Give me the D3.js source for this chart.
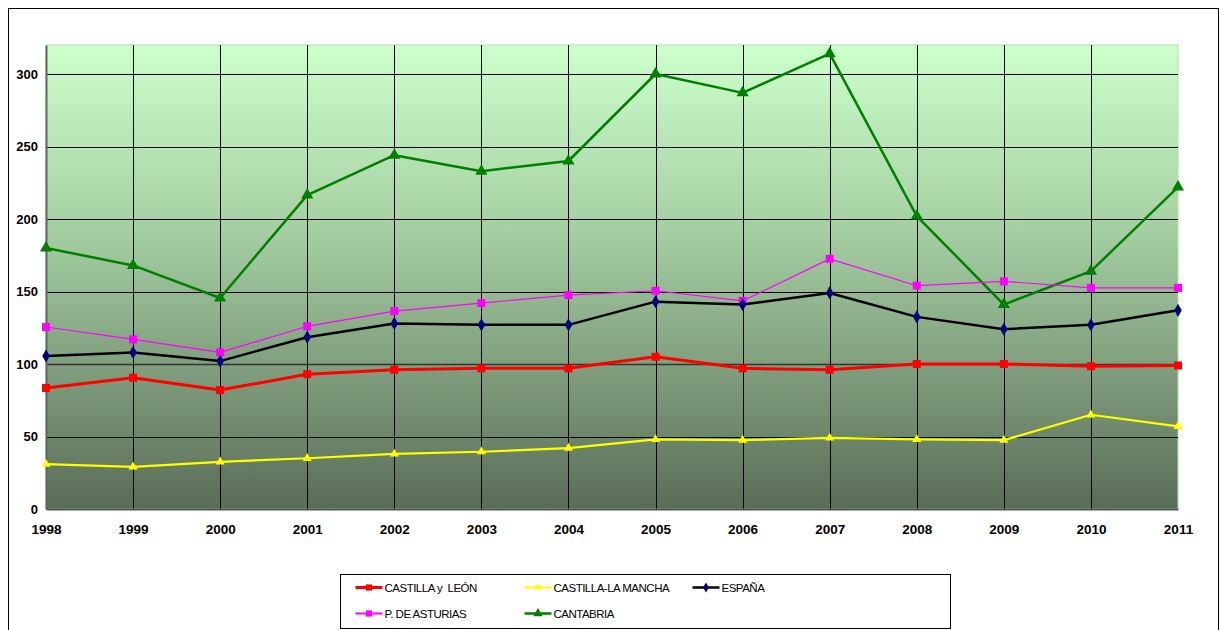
<!DOCTYPE html>
<html>
<head>
<meta charset="utf-8">
<script src="https://cdn.jsdelivr.net/npm/d3@7"></script>
<style>
  body { margin: 0; background: #fff; }
  svg { display: block; font-family: "Liberation Sans", Arial, sans-serif; }
</style>
</head>
<body>
<div id="chart"></div>
<script>
'use strict';

const years = [1998, 1999, 2000, 2001, 2002, 2003, 2004, 2005, 2006, 2007, 2008, 2009, 2010, 2011];
const yTicks = [0, 50, 100, 150, 200, 250, 300];

const castillaLeon = [83.5, 90.5, 82, 93, 96, 97, 97, 105, 97, 96, 100, 100, 98.5, 99];
const castillaMancha = [31, 29, 32.5, 35, 38, 39.5, 42, 48, 47.5, 49, 48, 47.5, 65, 57];
const espana = [105.5, 108, 102, 118.5, 128, 127, 127, 143, 141, 149, 132.5, 124, 127, 137];
const asturias = [125.5, 117, 108, 126, 136.5, 142, 147.5, 150.5, 143.5, 172.5, 154, 157, 152.5, 152.5];
const cantabria = [180, 168, 145.5, 216.5, 244, 233, 240, 300, 287, 314, 202, 141, 164, 222];

const seriesNames = ["CASTILLA y  LEÓN", "CASTILLA-LA MANCHA", "ESPAÑA", "P. DE ASTURIAS", "CANTABRIA"];

const series = [
    {name: seriesNames[0], values: castillaLeon, line: "#ff0000", fill: "#ff0000", width: 3, symbol: d3.symbolSquare, size: 64},
    {name: seriesNames[1], values: castillaMancha, line: "#ffff00", fill: "#ffff00", width: 2.2, symbol: d3.symbolTriangle, size: 36},
    {name: seriesNames[2], values: espana, line: "#000000", fill: "#000080", width: 2.5, symbol: d3.symbolDiamond, size: 50},
    {name: seriesNames[3], values: asturias, line: "#ff00ff", fill: "#ff00ff", width: 1.2, symbol: d3.symbolSquare, size: 64},
    {name: seriesNames[4], values: cantabria, line: "#008000", fill: "#008000", width: 2.5, symbol: d3.symbolTriangle, size: 64}
];

// draw order: Cantabria and Asturias underneath, then the rest
const drawOrder = [4, 3, 2, 1, 0];

const W = 1221, H = 630;
const margin = {top: 45, right: 43, bottom: 121, left: 46};
const plotW = W - margin.left - margin.right;
const plotH = H - margin.top - margin.bottom;

const svg = d3.select("#chart").append("svg")
    .attr("width", W)
    .attr("height", H);

// outer frame
svg.append("rect")
    .attr("x", 8.5).attr("y", 8.5)
    .attr("width", 1210).attr("height", 640)
    .attr("fill", "none")
    .attr("stroke", "#000")
    .attr("stroke-width", 1);

const defs = svg.append("defs");
const grad = defs.append("linearGradient")
    .attr("id", "bg").attr("x1", 0).attr("y1", 0).attr("x2", 0).attr("y2", 1);
grad.append("stop").attr("offset", "0%").attr("stop-color", "#ccffcc");
grad.append("stop").attr("offset", "40%").attr("stop-color", "#a5cfa2");
grad.append("stop").attr("offset", "100%").attr("stop-color", "#5a6c57");

const x = d3.scalePoint().domain(years).range([0, plotW]);
const y = d3.scaleLinear().domain([0, 320]).range([plotH, 0]);

const g = svg.append("g")
    .attr("transform", `translate(${margin.left},${margin.top})`);

g.append("rect")
    .attr("width", plotW).attr("height", plotH)
    .attr("fill", "url(#bg)")
    .attr("stroke", "#b8dcb5")
    .attr("stroke-width", 1);

// horizontal gridlines
g.append("g")
    .selectAll("line")
    .data(yTicks.filter(d => d > 0))
    .enter().append("line")
    .attr("x1", 0).attr("x2", plotW)
    .attr("y1", d => Math.round(y(d)) + 0.5)
    .attr("y2", d => Math.round(y(d)) + 0.5)
    .attr("stroke", d => d === 100 ? "#333" : "#000")
    .attr("stroke-width", d => d === 100 ? 1.6 : 1);

// vertical gridlines
g.append("g")
    .selectAll("line")
    .data(years.slice(1, -1))
    .enter().append("line")
    .attr("x1", d => Math.round(x(d)) + 0.5)
    .attr("x2", d => Math.round(x(d)) + 0.5)
    .attr("y1", 0).attr("y2", plotH)
    .attr("stroke", "#000")
    .attr("stroke-width", 1);

// axes
const yAxis = g.append("g")
    .call(d3.axisLeft(y).tickValues(yTicks).tickSize(0).tickPadding(8));
yAxis.select(".domain").attr("stroke", "#5d6b5d").attr("stroke-width", 2);
yAxis.selectAll("text")
    .attr("font-size", 13).attr("font-weight", "bold").attr("fill", "#000");

const xAxis = g.append("g")
    .attr("transform", `translate(0,${plotH})`)
    .call(d3.axisBottom(x).tickSize(0).tickPadding(15).tickFormat(d3.format("d")));
xAxis.select(".domain").attr("stroke", "#4a5a4a").attr("stroke-width", 2);
xAxis.selectAll("text")
    .attr("font-size", 13.5).attr("font-weight", "bold").attr("fill", "#000");

const line = d3.line()
    .x((d, i) => x(years[i]))
    .y(d => y(d));

drawOrder.forEach(i => {
    const s = series[i];
    const sg = g.append("g");
    sg.append("path")
        .datum(s.values)
        .attr("d", line)
        .attr("fill", "none")
        .attr("stroke", s.line)
        .attr("stroke-width", s.width)
        .attr("stroke-linejoin", "round");
    sg.selectAll("path.mark")
        .data(s.values)
        .enter().append("path")
        .attr("class", "mark")
        .attr("transform", (d, j) => `translate(${x(years[j])},${y(d)})`)
        .attr("d", d3.symbol().type(s.symbol).size(s.size))
        .attr("fill", s.fill);
});

// legend
const legend = svg.append("g").attr("transform", "translate(340.5,574.5)");
legend.append("rect")
    .attr("width", 610).attr("height", 54)
    .attr("fill", "#fff").attr("stroke", "#000").attr("stroke-width", 1);

const legendPos = [
    {x: 15, y: 13}, {x: 184, y: 13}, {x: 352, y: 13},
    {x: 15, y: 39}, {x: 184, y: 39}
];

series.forEach((s, i) => {
    const p = legendPos[i];
    const item = legend.append("g").attr("transform", `translate(${p.x},${p.y})`);
    item.append("line")
        .attr("x1", 0).attr("x2", 27)
        .attr("stroke", s.line)
        .attr("stroke-width", Math.max(s.width, 2));
    item.append("path")
        .attr("transform", "translate(13.5,0)")
        .attr("d", d3.symbol().type(s.symbol).size(s.size * 0.6))
        .attr("fill", s.fill);
    item.append("text")
        .attr("x", 29).attr("y", 0).attr("dy", "0.35em")
        .attr("font-size", 11.5)
        .style("letter-spacing", "-0.5px")
        .style("white-space", "pre")
        .attr("fill", "#000")
        .text(s.name);
});
</script>
</body>
</html>
